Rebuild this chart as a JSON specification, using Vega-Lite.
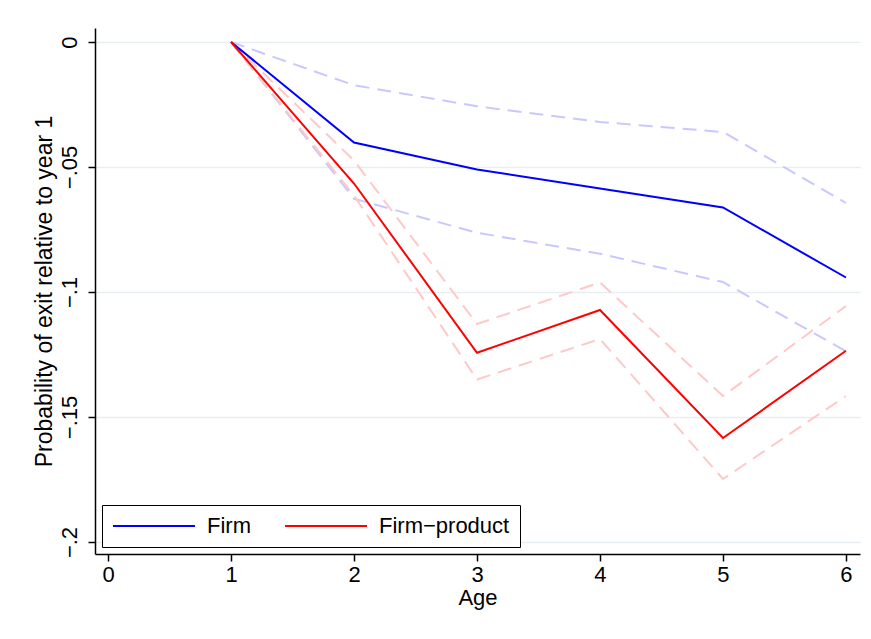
{
  "$schema": "https://vega.github.io/schema/vega-lite/v6.json",
  "width": 765,
  "height": 526,
  "autosize": {"type": "none"},
  "padding": {"left": 95, "top": 28, "right": 11, "bottom": 85},
  "background": "white",
  "config": {
    "font": "Liberation Sans",
    "view": {"stroke": null},
    "axis": {
      "labelFont": "Liberation Sans",
      "titleFont": "Liberation Sans",
      "labelFontSize": 22,
      "titleFontSize": 22,
      "titleFontWeight": "normal",
      "labelColor": "black",
      "titleColor": "black",
      "domainColor": "black",
      "domainWidth": 1.5,
      "tickColor": "black",
      "tickWidth": 1.5,
      "tickSize": 7
    },
    "legend": {
      "labelFont": "Liberation Sans",
      "labelFontSize": 22,
      "labelColor": "black"
    }
  },
  "data": {
    "values": [
      {"age": 1, "series": "Firm", "bound": "est", "value": 0},
      {"age": 2, "series": "Firm", "bound": "est", "value": -0.0402},
      {"age": 3, "series": "Firm", "bound": "est", "value": -0.051},
      {"age": 4, "series": "Firm", "bound": "est", "value": -0.0586},
      {"age": 5, "series": "Firm", "bound": "est", "value": -0.0662},
      {"age": 6, "series": "Firm", "bound": "est", "value": -0.0942},
      {"age": 1, "series": "Firm", "bound": "hi", "value": 0},
      {"age": 2, "series": "Firm", "bound": "hi", "value": -0.0173},
      {"age": 3, "series": "Firm", "bound": "hi", "value": -0.0257},
      {"age": 4, "series": "Firm", "bound": "hi", "value": -0.032},
      {"age": 5, "series": "Firm", "bound": "hi", "value": -0.036},
      {"age": 6, "series": "Firm", "bound": "hi", "value": -0.0644},
      {"age": 1, "series": "Firm", "bound": "lo", "value": 0},
      {"age": 2, "series": "Firm", "bound": "lo", "value": -0.0627},
      {"age": 3, "series": "Firm", "bound": "lo", "value": -0.0763},
      {"age": 4, "series": "Firm", "bound": "lo", "value": -0.0847},
      {"age": 5, "series": "Firm", "bound": "lo", "value": -0.096},
      {"age": 6, "series": "Firm", "bound": "lo", "value": -0.1237},
      {"age": 1, "series": "Firm−product", "bound": "est", "value": 0},
      {"age": 2, "series": "Firm−product", "bound": "est", "value": -0.0566},
      {"age": 3, "series": "Firm−product", "bound": "est", "value": -0.1243},
      {"age": 4, "series": "Firm−product", "bound": "est", "value": -0.1072},
      {"age": 5, "series": "Firm−product", "bound": "est", "value": -0.1584},
      {"age": 6, "series": "Firm−product", "bound": "est", "value": -0.1235},
      {"age": 1, "series": "Firm−product", "bound": "hi", "value": 0},
      {"age": 2, "series": "Firm−product", "bound": "hi", "value": -0.0474},
      {"age": 3, "series": "Firm−product", "bound": "hi", "value": -0.1128},
      {"age": 4, "series": "Firm−product", "bound": "hi", "value": -0.0962},
      {"age": 5, "series": "Firm−product", "bound": "hi", "value": -0.1416},
      {"age": 6, "series": "Firm−product", "bound": "hi", "value": -0.1056},
      {"age": 1, "series": "Firm−product", "bound": "lo", "value": 0},
      {"age": 2, "series": "Firm−product", "bound": "lo", "value": -0.0614},
      {"age": 3, "series": "Firm−product", "bound": "lo", "value": -0.135},
      {"age": 4, "series": "Firm−product", "bound": "lo", "value": -0.1188},
      {"age": 5, "series": "Firm−product", "bound": "lo", "value": -0.1748},
      {"age": 6, "series": "Firm−product", "bound": "lo", "value": -0.1416}
    ]
  },
  "encoding": {
    "x": {
      "field": "age",
      "type": "quantitative",
      "scale": {"domain": [-0.106, 6.114], "nice": false, "zero": false},
      "axis": {
        "values": [0, 1, 2, 3, 4, 5, 6],
        "title": "Age",
        "grid": false,
        "labelPadding": 3,
        "titlePadding": 2,
        "labelFlush": false
      }
    },
    "y": {
      "field": "value",
      "type": "quantitative",
      "scale": {"domain": [-0.2048, 0.0056], "nice": false, "zero": false},
      "axis": {
        "values": [0, -0.05, -0.1, -0.15, -0.2],
        "labelExpr": "datum.value == 0 ? '0' : replace(format(datum.value, '.2~f'), '0.', '.')",
        "labelAngle": -90,
        "labelAlign": "center",
        "labelBaseline": "bottom",
        "labelPadding": 7,
        "labelFlush": false,
        "title": "Probability of exit relative to year 1",
        "titleFontSize": 23,
        "titlePadding": 2,
        "grid": true,
        "gridColor": "#e6eef1",
        "gridWidth": 1.5
      }
    }
  },
  "layer": [
    {
      "transform": [{"filter": "datum.bound != 'est'"}],
      "mark": {"type": "line", "strokeWidth": 2, "strokeDash": [14, 8]},
      "encoding": {
        "color": {
          "field": "series",
          "type": "nominal",
          "scale": {"domain": ["Firm", "Firm−product"], "range": ["#c8c8ff", "#ffc8c8"]},
          "legend": null
        },
        "detail": {"field": "bound"}
      }
    },
    {
      "transform": [{"filter": "datum.bound == 'est'"}],
      "mark": {"type": "line", "strokeWidth": 2},
      "encoding": {
        "color": {
          "field": "series",
          "type": "nominal",
          "scale": {"domain": ["Firm", "Firm−product"], "range": ["#0000ff", "#ff0000"]},
          "legend": {
            "title": null,
            "orient": "none",
            "legendX": 7,
            "legendY": 477,
            "direction": "horizontal",
            "symbolType": "M-1,0H7.2",
            "symbolSize": 400,
            "symbolStrokeWidth": 2,
            "labelOffset": 73,
            "columnPadding": 30,
            "padding": 10,
            "strokeColor": "black",
            "fillColor": "white",
            "labelLimit": 300
          }
        }
      }
    }
  ],
  "resolve": {"scale": {"color": "independent"}}
}
